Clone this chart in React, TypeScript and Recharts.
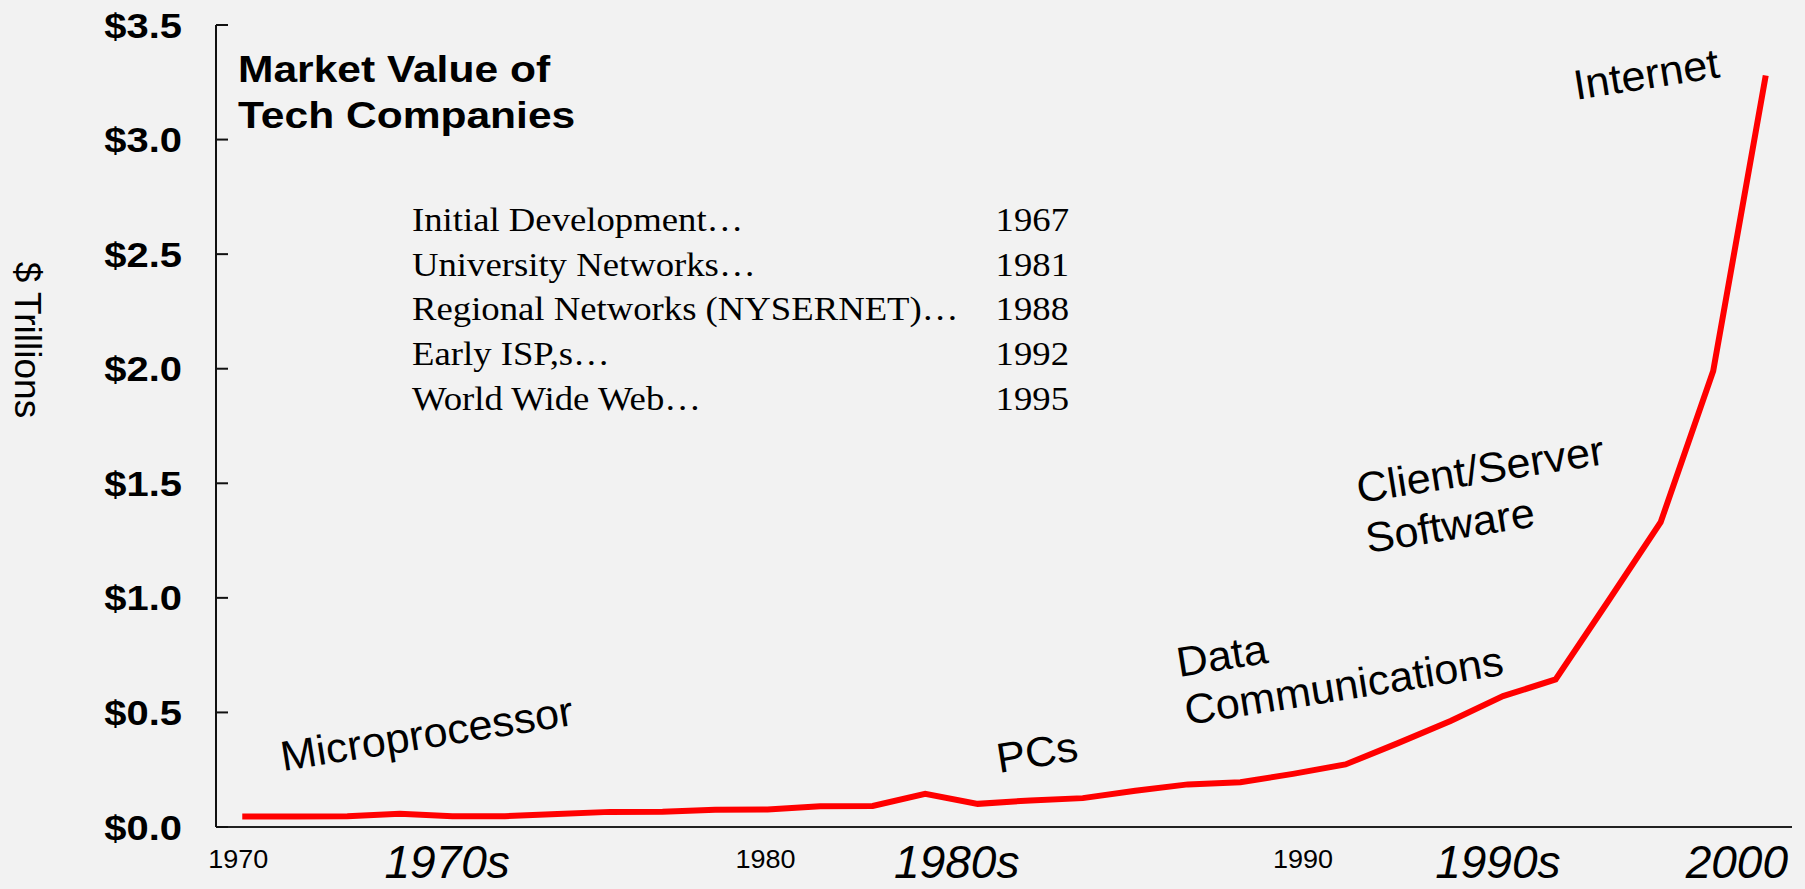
import React from 'react';
import { LineChart, Line, XAxis, YAxis } from 'recharts';

const years = [1970, 1971, 1972, 1973, 1974, 1975, 1976, 1977, 1978, 1979, 1980, 1981, 1982, 1983, 1984, 1985, 1986, 1987, 1988, 1989, 1990, 1991, 1992, 1993, 1994, 1995, 1996, 1997, 1998, 1999];
const marketValue = [0.046, 0.046, 0.047, 0.058, 0.047, 0.047, 0.057, 0.066, 0.067, 0.075, 0.076, 0.091, 0.092, 0.145, 0.101, 0.116, 0.126, 0.158, 0.186, 0.195, 0.232, 0.273, 0.366, 0.463, 0.571, 0.644, 0.985, 1.33, 1.99, 3.28];

const yTicks = [0, 0.5, 1, 1.5, 2, 2.5, 3, 3.5];
const xTicks = [1970, 1980, 1990];
const decadeTicks = [1973.9, 1983.6, 1993.9, 1998.45];
const decadeLabels = ['1970s', '1980s', '1990s', '2000'];

const milestoneNames = [
  'Initial Development…',
  'University Networks…',
  'Regional Networks (NYSERNET)…',
  'Early ISP,s…',
  'World Wide Web…',
];
const milestoneYears = ['1967', '1981', '1988', '1992', '1995'];

const titleLines = ['Market Value of', 'Tech Companies'];
const yAxisTitle = '$ Trillions';

const eraLabels = [
  { text: 'Microprocessor', x: 283, y: 771 },
  { text: 'PCs', x: 999, y: 773 },
  { text: 'Data', x: 1179, y: 677 },
  { text: 'Communications', x: 1187, y: 725 },
  { text: 'Client/Server', x: 1359, y: 503 },
  { text: 'Software', x: 1368, y: 553 },
  { text: 'Internet', x: 1576, y: 100 },
];

const data = years.map((yr, i) => ({ year: yr, value: marketValue[i] }));

const W = 1805;
const H = 889;
const LEFT = 216;
const BOTTOM = 827;
const SANS = '"Liberation Sans", Arial, sans-serif';
const SERIF = '"Liberation Serif", "Times New Roman", serif';
// small horizontal nudges of the year tick labels (style only)
const xTickNudge: Record<number, number> = { 1970: -4, 1980: -2, 1990: 10 };

function SText(props: any) {
  const { x, y, sx = 1, rot = 0, anchor = 'start', size, family = SANS, weight = 'normal', italic = false, baseline, children } = props;
  return (
    <text
      transform={`translate(${x},${y}) rotate(${rot}) scale(${sx},1)`}
      textAnchor={anchor}
      fontSize={size}
      fontFamily={family}
      fontWeight={weight}
      fontStyle={italic ? 'italic' : 'normal'}
      dominantBaseline={baseline}
      fill="#000"
    >
      {children}
    </text>
  );
}

function YTick(props: any) {
  const { y, payload } = props;
  return (
    <g>
      <line x1={LEFT} x2={LEFT + 12} y1={y} y2={y} stroke="#111" strokeWidth={2} />
      <SText x={LEFT - 34} y={y + 12.5} sx={1.14} anchor="end" size={35} weight="bold">
        {`$${Number(payload.value).toFixed(1)}`}
      </SText>
    </g>
  );
}

function XTick(props: any) {
  const { x, payload } = props;
  const nudge = xTickNudge[payload.value] || 0;
  return (
    <SText x={x + nudge} y={BOTTOM + 41} sx={1.08} anchor="middle" size={25}>
      {String(payload.value)}
    </SText>
  );
}

function DecadeTick(props: any) {
  const { x, payload } = props;
  const idx = decadeTicks.indexOf(payload.value);
  return (
    <SText x={x} y={878} anchor="middle" size={46} italic>
      {decadeLabels[idx]}
    </SText>
  );
}

export default function App() {
  return (
    <div style={{ position: 'absolute', left: 0, top: 0, width: W, height: H, background: '#f2f2f2' }}>
      <LineChart width={W} height={H} data={data} margin={{ top: 25, right: 13, left: 0, bottom: 0 }}>
        <XAxis
          dataKey="year"
          type="number"
          domain={[1969.5, 1999.5]}
          ticks={xTicks}
          tickLine={false}
          axisLine={{ stroke: '#222', strokeWidth: 2 }}
          tick={<XTick />}
          height={30}
          interval={0}
        />
        <XAxis
          xAxisId="decade"
          dataKey="year"
          type="number"
          domain={[1969.5, 1999.5]}
          ticks={decadeTicks}
          tickLine={false}
          axisLine={false}
          tick={<DecadeTick />}
          height={32}
          interval={0}
        />
        <YAxis
          type="number"
          domain={[0, 3.5]}
          ticks={yTicks}
          width={LEFT}
          tickLine={false}
          tickSize={0}
          axisLine={{ stroke: '#111', strokeWidth: 2 }}
          tick={<YTick />}
          interval={0}
        />
        <Line
          type="linear"
          dataKey="value"
          stroke="#ff0000"
          strokeWidth={6}
          dot={false}
          activeDot={false}
          isAnimationActive={false}
        />
      </LineChart>
      <svg width={W} height={H} style={{ position: 'absolute', left: 0, top: 0, pointerEvents: 'none' }}>
        <SText x={15} y={340} rot={90} anchor="middle" size={37}>{yAxisTitle}</SText>
        {titleLines.map((t, i) => (
          <SText key={t} x={238} y={82 + i * 46} sx={1.15} size={37} weight="bold">{t}</SText>
        ))}
        {milestoneNames.map((t, i) => (
          <SText key={t} x={412} y={231 + i * 44.7} sx={1.08} size={34} family={SERIF}>{t}</SText>
        ))}
        {milestoneYears.map((t, i) => (
          <SText key={t + i} x={1069} y={231 + i * 44.7} sx={1.08} anchor="end" size={34} family={SERIF}>{t}</SText>
        ))}
        {eraLabels.map((l) => (
          <SText key={l.text} x={l.x} y={l.y} rot={-9} sx={1.03} size={42}>{l.text}</SText>
        ))}
      </svg>
    </div>
  );
}
